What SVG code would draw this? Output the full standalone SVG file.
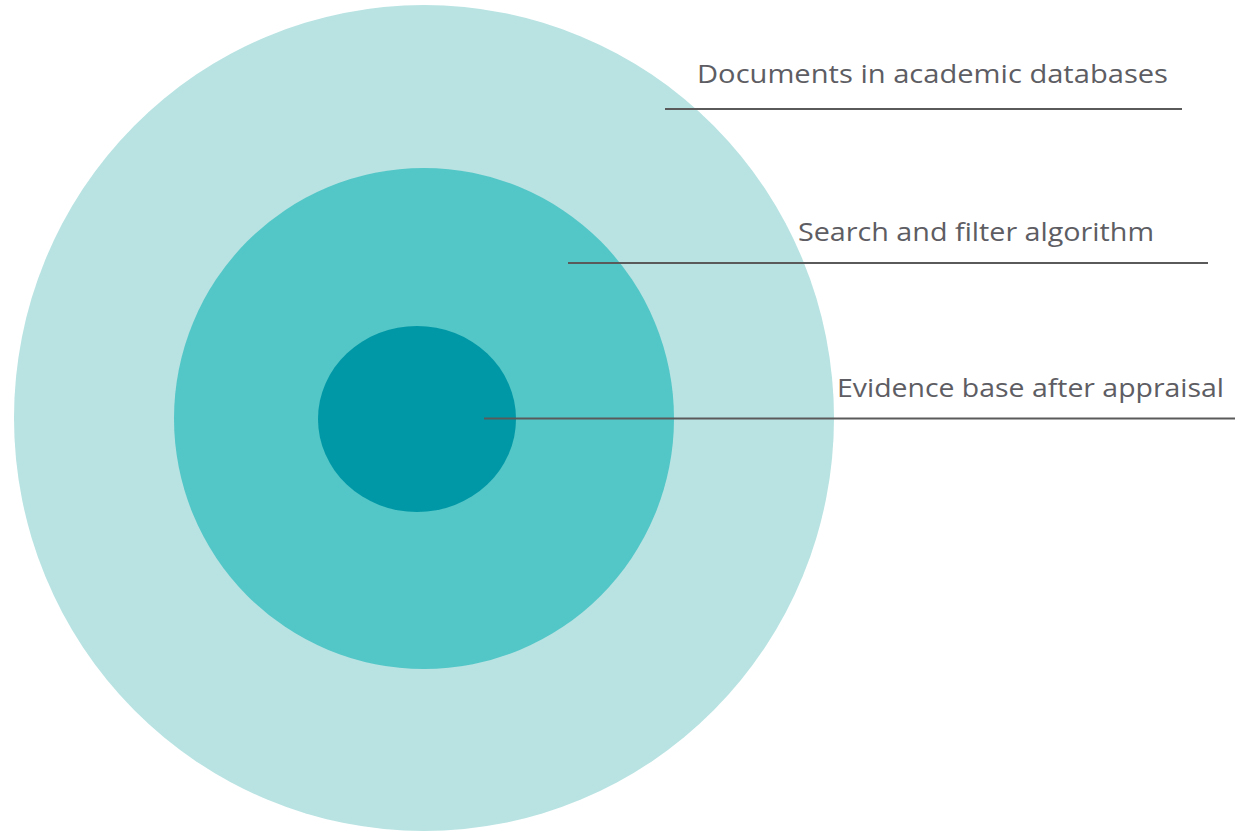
<svg xmlns="http://www.w3.org/2000/svg" width="1243" height="833" viewBox="0 0 1243 833">
<style>
.lbl{font-family:"Open Sans","Liberation Sans",sans-serif;font-size:25px;fill:#5d5d63;}
.ln{stroke:#5a5a5a;stroke-width:2;fill:none;}
</style>
<rect width="1243" height="833" fill="#ffffff"/>
<g id="outer"><ellipse cx="424" cy="418" rx="410" ry="413" fill="#b8e3e2"/></g>
<g id="middle"><ellipse cx="424" cy="418.5" rx="250" ry="250.5" fill="#53c6c7"/></g>
<g id="inner"><ellipse cx="417" cy="419" rx="99" ry="93" fill="#0098a6"/></g>
<g id="connectors">
<line class="ln" x1="665" y1="109" x2="1182" y2="109"/>
<line class="ln" x1="568" y1="263" x2="1208" y2="263"/>
<line class="ln" x1="484" y1="418.5" x2="1235" y2="418.5"/>
</g>
<g id="label1"><text class="lbl" x="697" y="83" textLength="471" lengthAdjust="spacingAndGlyphs">Documents in academic databases</text></g>
<g id="label2"><text class="lbl" x="798" y="241" textLength="356" lengthAdjust="spacingAndGlyphs">Search and filter algorithm</text></g>
<g id="label3"><text class="lbl" x="837" y="397" textLength="387" lengthAdjust="spacingAndGlyphs">Evidence base after appraisal</text></g>
</svg>
